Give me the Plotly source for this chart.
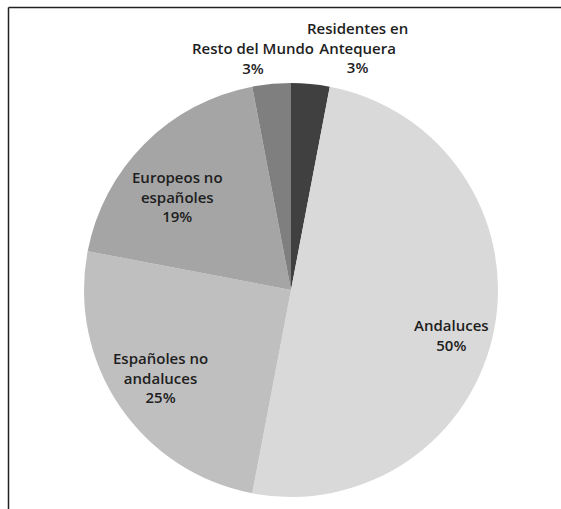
import plotly.graph_objects as go

labels = ["Residentes en<br>Antequera", "Andaluces", "Españoles no<br>andaluces", "Europeos no<br>españoles", "Resto del Mundo"]
values = [3, 50, 25, 19, 3]
colors = ["#404040", "#d9d9d9", "#bfbfbf", "#a5a5a5", "#7f7f7f"]
# label block centres in pixels (x, y from top)
label_pos = [(357, 48), (451, 335), (160, 377), (177, 197), (253, 58)]

W, H = 561, 509
total = sum(values)

fig = go.Figure(go.Pie(
    labels=labels, values=values, sort=False, direction="clockwise", rotation=0,
    marker=dict(colors=colors, line=dict(width=0)),
    textinfo="none",
    showlegend=False,
    domain=dict(x=[84/W, 498/W], y=[(509-497)/H, (509-83)/H]),
    hoverinfo="skip",
))

annotations = []
for lab, v, (px, py) in zip(labels, values, label_pos):
    annotations.append(dict(
        x=px/W, y=1-py/H, xref="paper", yref="paper",
        text=f"{lab}<br>{v/total*100:.0f}%", showarrow=False,
        xanchor="center", yanchor="middle", align="center",
        font=dict(family="Open Sans", size=15, color="#1e1e1e", weight=600),
    ))

fig.update_layout(
    width=W, height=H, margin=dict(l=0, r=0, t=0, b=0),
    paper_bgcolor="white", plot_bgcolor="white",
    annotations=annotations,
    shapes=[
        dict(type="line", xref="paper", yref="paper", x0=8.5/W, x1=1, y0=1-7.5/H, y1=1-7.5/H,
             line=dict(color="#222222", width=1.5)),
        dict(type="line", xref="paper", yref="paper", x0=8.5/W, x1=8.5/W, y0=0, y1=1-7.5/H,
             line=dict(color="#222222", width=1.5)),
    ],
)
fig.write_html(
    "out.html", config={"displayModeBar": False},
    post_script="document.body.style.margin='0px';"
                "document.body.style.overflow='hidden';"
                "document.documentElement.style.overflow='hidden';",
)
